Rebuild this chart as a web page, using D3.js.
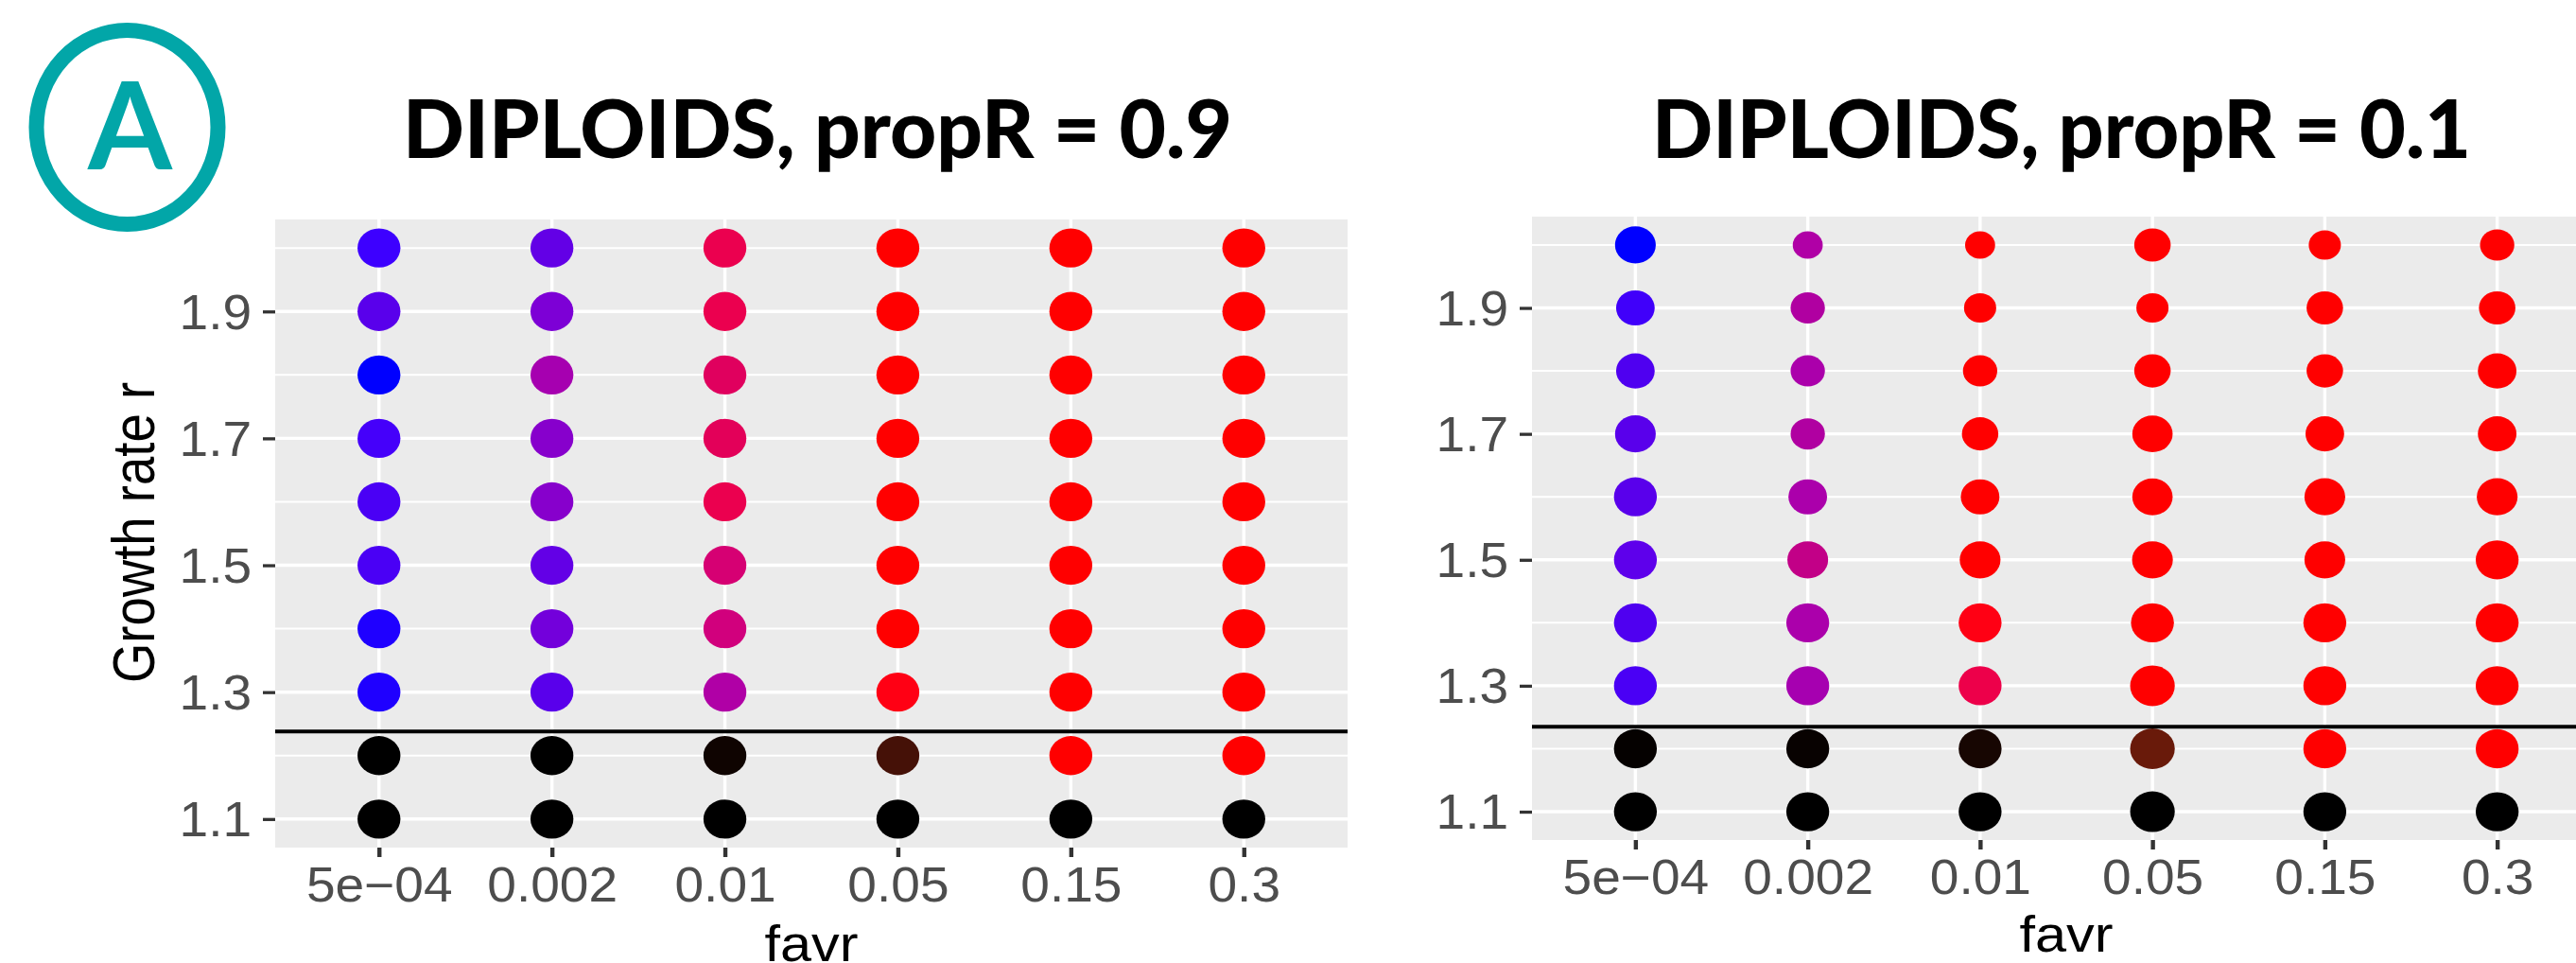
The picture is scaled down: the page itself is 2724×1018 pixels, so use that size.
<!DOCTYPE html>
<html>
<head>
<meta charset="utf-8">
<script src="https://cdnjs.cloudflare.com/ajax/libs/d3/7.8.5/d3.min.js"></script>
<style>
    html, body { margin: 0; padding: 0; background: #fff; overflow: hidden; }
    svg { display: block; }
    text { font-family: "Liberation Sans", Arial, sans-serif; }
</style>
</head>
<body>
<svg id="chart" width="2724" height="1018"></svg>
<script>
const favr = ['5e\u221204', '0.002', '0.01', '0.05', '0.15', '0.3'];
const growthRates = [2.0, 1.9, 1.8, 1.7, 1.6, 1.5, 1.4, 1.3, 1.2, 1.1];
const majorTicks = [1.1, 1.3, 1.5, 1.7, 1.9];
const minorTicks = [1.2, 1.4, 1.6, 1.8, 2.0];

// one row per growth rate (2.0 first), one column per favr
const redA = [
    [0.24, 0.39, 0.92, 1, 1, 1],
    [0.35, 0.49, 0.92, 1, 1, 1],
    [0, 0.65, 0.88, 1, 1, 1],
    [0.27, 0.53, 0.89, 1, 1, 1],
    [0.29, 0.53, 0.92, 1, 1, 1],
    [0.29, 0.39, 0.84, 1, 1, 1],
    [0.12, 0.45, 0.82, 1, 1, 1],
    [0.12, 0.35, 0.69, 1, 1, 1],
    [0, 0, 0.06, 0.27, 1, 1],
    [0, 0, 0, 0, 0, 0]
];
const blueA = [
    [1, 0.90, 0.31, 0, 0, 0],
    [0.92, 0.84, 0.31, 0, 0, 0],
    [1, 0.69, 0.37, 0, 0, 0],
    [0.98, 0.80, 0.35, 0, 0, 0],
    [0.96, 0.80, 0.31, 0, 0, 0],
    [0.96, 0.90, 0.45, 0, 0, 0],
    [1, 0.86, 0.49, 0, 0, 0],
    [1, 0.92, 0.65, 0.08, 0, 0],
    [0, 0, 0, 0, 0, 0],
    [0, 0, 0, 0, 0, 0]
];
const sizeA = [
    [1, 1, 1, 1, 1, 1],
    [1, 1, 1, 1, 1, 1],
    [1, 1, 1, 1, 1, 1],
    [1, 1, 1, 1, 1, 1],
    [1, 1, 1, 1, 1, 1],
    [1, 1, 1, 1, 1, 1],
    [1, 1, 1, 1, 1, 1],
    [1, 1, 1, 1, 1, 1],
    [1, 1, 1, 1, 1, 1],
    [1, 1, 1, 1, 1, 1]
];

const redB = [
    [0, 0.69, 1, 1, 1, 1],
    [0.25, 0.69, 1, 1, 1, 1],
    [0.31, 0.67, 1, 1, 1, 1],
    [0.35, 0.69, 1, 1, 1, 1],
    [0.35, 0.67, 1, 1, 1, 1],
    [0.37, 0.76, 1, 1, 1, 1],
    [0.31, 0.67, 1, 1, 1, 1],
    [0.29, 0.65, 0.93, 1, 1, 1],
    [0.02, 0.03, 0.09, 0.41, 1, 1],
    [0, 0, 0, 0, 0, 0]
];
const blueB = [
    [1, 0.65, 0, 0, 0, 0],
    [0.98, 0.63, 0, 0, 0, 0],
    [0.94, 0.67, 0, 0, 0, 0],
    [0.92, 0.63, 0, 0, 0, 0],
    [0.92, 0.67, 0, 0, 0, 0],
    [0.92, 0.53, 0, 0, 0, 0],
    [0.94, 0.67, 0.08, 0, 0, 0],
    [0.96, 0.69, 0.29, 0, 0, 0],
    [0, 0, 0, 0, 0, 0],
    [0, 0, 0, 0, 0, 0]
];
const sizeB = [
    [0.95, 0.70, 0.70, 0.85, 0.75, 0.80],
    [0.90, 0.80, 0.75, 0.75, 0.85, 0.85],
    [0.90, 0.80, 0.80, 0.85, 0.85, 0.90],
    [0.95, 0.80, 0.85, 0.94, 0.90, 0.90],
    [1, 0.90, 0.90, 0.94, 0.95, 0.95],
    [1, 0.95, 0.95, 0.95, 0.95, 1],
    [1, 1, 1, 1, 1, 1],
    [1, 1, 1, 1.04, 1, 1],
    [1, 1, 1, 1.04, 1, 1],
    [1, 1, 1, 1.04, 1, 1]
];

const titleA = 'DIPLOIDS, propR = 0.9';
const titleB = 'DIPLOIDS, propR = 0.1';
const thresholdA = 1.238;
const thresholdB = 1.235;

const svg = d3.select('#chart');

var radius = d3.scaleLinear().domain([0, 1]).range([0, 22.7]);
var channel = d3.scaleLinear().domain([0, 1]).range([0, 255]);
// dots with no blue fade from red through brown to black
var redRamp = d3.scaleLinear().domain([0, 0.41, 1]).range(['#000000', '#691a0a', '#ff0000']);

function dotColor(r, b) {
    if (b === 0) return redRamp(r);
    return d3.rgb(channel(r), 0, channel(b)).formatHex();
}

function drawPanel(o) {
    var left = o.left, right = o.right, top = o.top, bottom = o.bottom;

    var x = d3.scalePoint().domain(favr).range([left, right]).padding(0.6);
    var y = d3.scaleLinear().domain([1.055, 2.045]).range([bottom, top]);

    var g = svg.append('g');

    g.append('rect')
        .attr('x', left).attr('y', top)
        .attr('width', right - left).attr('height', bottom - top)
        .attr('fill', '#ebebeb');

    // minor, then major grid lines
    g.selectAll('.minor').data(minorTicks).enter().append('line')
        .attr('class', 'minor')
        .attr('x1', left).attr('x2', right)
        .attr('y1', d => y(d)).attr('y2', d => y(d))
        .attr('stroke', '#fff').attr('stroke-width', 2);
    g.selectAll('.major').data(majorTicks).enter().append('line')
        .attr('class', 'major')
        .attr('x1', left).attr('x2', right)
        .attr('y1', d => y(d)).attr('y2', d => y(d))
        .attr('stroke', '#fff').attr('stroke-width', 3.4);
    g.selectAll('.vmajor').data(favr).enter().append('line')
        .attr('class', 'vmajor')
        .attr('x1', d => x(d)).attr('x2', d => x(d))
        .attr('y1', top).attr('y2', bottom)
        .attr('stroke', '#fff').attr('stroke-width', 3.4);

    var cells = [];
    growthRates.forEach(function (r, i) {
        favr.forEach(function (f, j) {
            cells.push({ f: f, r: r, red: o.red[i][j], blue: o.blue[i][j], size: o.size[i][j] });
        });
    });

    g.selectAll('.dot').data(cells).enter().append('ellipse')
        .attr('class', 'dot')
        .attr('cx', d => x(d.f))
        .attr('cy', d => y(d.r))
        .attr('rx', d => radius(d.size))
        .attr('ry', d => radius(d.size) * 0.91)
        .attr('fill', d => dotColor(d.red, d.blue));

    g.append('line')
        .attr('x1', left).attr('x2', right)
        .attr('y1', y(o.threshold)).attr('y2', y(o.threshold))
        .attr('stroke', '#000').attr('stroke-width', 4);

    var xAxis = d3.axisBottom(x).tickSize(10).tickPadding(0);
    var yAxis = d3.axisLeft(y).tickValues(majorTicks).tickSize(13).tickFormat(d3.format('.1f'));

    var gx = g.append('g').attr('transform', 'translate(0,' + bottom + ')').call(xAxis);
    var gy = g.append('g').attr('transform', 'translate(' + left + ',0)').call(yAxis);
    gx.select('.domain').remove();
    gy.select('.domain').remove();
    gx.selectAll('.tick line').attr('stroke', '#333').attr('stroke-width', 4.4);
    gy.selectAll('.tick line').attr('stroke', '#333').attr('stroke-width', 3.3);

    gx.selectAll('text')
        .attr('y', 57).attr('dy', 0)
        .attr('transform', 'scale(1.08,1)')
        .style('font-size', '51px')
        .attr('fill', '#4d4d4d');
    gy.selectAll('text')
        .attr('x', -23).attr('dy', '0.35em')
        .attr('transform', 'scale(1.08,1)')
        .style('font-size', '51px')
        .attr('fill', '#4d4d4d');

    g.append('text')
        .attr('transform', 'translate(' + ((left + right) / 2) + ',' + o.xTitleY + ') scale(1.1,1)')
        .attr('text-anchor', 'middle')
        .style('font-size', '54px')
        .attr('fill', '#000')
        .text('favr');

    svg.append('text')
        .attr('x', o.titleX).attr('y', 167)
        .attr('textLength', o.titleW)
        .attr('lengthAdjust', 'spacingAndGlyphs')
        .style('font-family', 'Lato')
        .style('font-weight', 900)
        .style('font-size', '86px')
        .attr('fill', '#000')
        .text(o.title);
}

drawPanel({
    left: 291, right: 1425, top: 232, bottom: 896,
    red: redA, blue: blueA, size: sizeA, threshold: thresholdA,
    title: titleA, titleX: 426, titleW: 877, xTitleY: 1016
});
drawPanel({
    left: 1620, right: 2750, top: 229, bottom: 888,
    red: redB, blue: blueB, size: sizeB, threshold: thresholdB,
    title: titleB, titleX: 1747, titleW: 866, xTitleY: 1006
});

svg.append('text')
    .attr('transform', 'translate(163,563) rotate(-90) scale(1.01,1.18)')
    .attr('text-anchor', 'middle')
    .style('font-size', '54px')
    .attr('fill', '#000')
    .text('Growth rate r');

// panel letter
svg.append('ellipse')
    .attr('cx', 134.5).attr('cy', 134.5)
    .attr('rx', 96).attr('ry', 102.5)
    .attr('fill', 'none')
    .attr('stroke', '#02a6a8')
    .attr('stroke-width', 16);
svg.append('text')
    .attr('x', 137.5).attr('y', 179)
    .attr('text-anchor', 'middle')
    .style('font-family', 'Lato')
    .style('font-weight', 700)
    .style('font-size', '128px')
    .attr('fill', '#02a6a8')
    .text('A');
</script>
</body>
</html>
